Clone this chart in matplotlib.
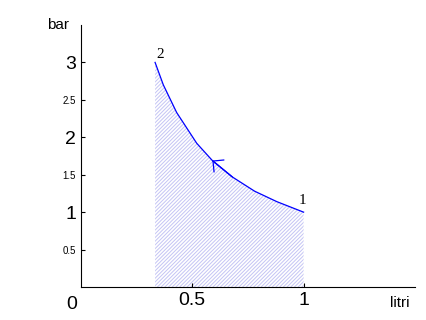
import matplotlib
matplotlib.use("Agg")
import matplotlib.pyplot as plt

# punti dell'isoterma (volume in litri, pressione in bar)
volume = [0.333, 0.37, 0.43, 0.52, 0.59, 0.68, 0.78, 0.88, 1.0]
pressione = [3.0, 2.7, 2.33, 1.92, 1.69, 1.47, 1.28, 1.14, 1.0]

yticks = [0.5, 1, 1.5, 2, 2.5, 3]
ytick_labels = ["0.5", "1", "1.5", "2", "2.5", "3"]
xticks = [0.5, 1]
xtick_labels = ["0.5", "1"]

plt.rcParams["font.family"] = ["Liberation Sans", "DejaVu Sans"]
plt.rcParams["hatch.linewidth"] = 0.7

fig = plt.figure(figsize=(4.26, 3.2), dpi=100)
ax = fig.add_axes([0.190, 0.103, 0.784, 0.819])

# area sotto la curva, tratteggiata
ax.fill_between(volume, pressione, 0, facecolor="none", edgecolor="#c4c4f4",
                hatch="/////////", linewidth=0)
ax.plot(volume, pressione, color="blue", lw=0.9)

# freccia verso lo stato 2
ax.annotate("", xy=(volume[4], pressione[4]), xytext=(volume[5], pressione[5]),
            arrowprops=dict(arrowstyle="->,head_length=0.56,head_width=0.56",
                            color="blue", lw=0.9, shrinkA=0, shrinkB=0))

ax.text(volume[0] + 0.005, pressione[0] + 0.02, "2", family="Liberation Serif",
        fontsize=11, ha="left", va="bottom")
ax.text(volume[-1] - 0.005, pressione[-1] + 0.07, "1", family="Liberation Serif",
        fontsize=11, ha="center", va="bottom")

ax.set_xlim(0, 1.5)
ax.set_ylim(0, 3.5)
ax.spines["top"].set_visible(False)
ax.spines["right"].set_visible(False)
ax.tick_params(direction="in", length=3, width=0.8)

ax.set_yticks(yticks)
ax.set_yticklabels(ytick_labels)
for lab, v in zip(ax.get_yticklabels(), yticks):
    lab.set_fontsize(14 if v == int(v) else 7)
ax.set_xticks(xticks)
ax.set_xticklabels(xtick_labels, fontsize=14)

ax.text(-0.027, -0.035, "0", transform=ax.transAxes, fontsize=14,
        ha="center", va="top")
ax.text(-0.07, 1.0, "bar", transform=ax.transAxes, fontsize=11,
        ha="center", va="center")
ax.text(0.955, -0.035, "litri", transform=ax.transAxes, fontsize=11,
        ha="center", va="top")

fig.savefig("out.png", dpi=100)
